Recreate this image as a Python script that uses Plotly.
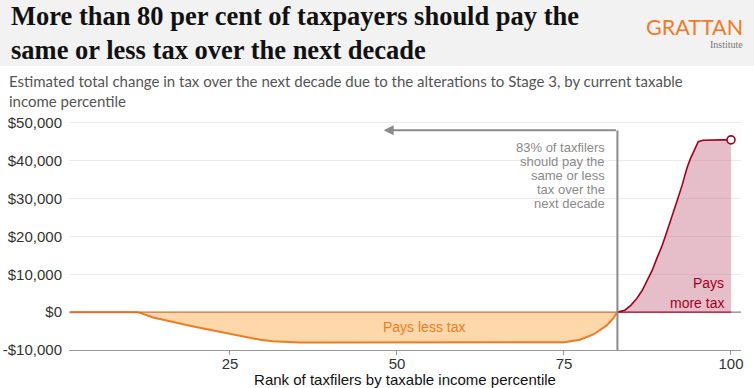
import plotly.graph_objects as go

# ---- data ----
less_pct = [1, 5, 10, 11.2, 13.5, 16, 18.5, 21, 23.5, 25.5, 27.5, 29.5, 31.4, 33.5, 35.5, 38.5, 45, 55, 65, 72, 75, 77.4, 79.4, 81.4, 82.3, 83]
less_val = [0, 0, 0, 0, -1400, -2500, -3400, -4300, -5200, -6000, -6700, -7300, -7700, -7900, -8000, -8050, -8050, -8050, -8050, -8050, -7950, -7300, -5900, -3500, -1800, 0]

more_pct = [83, 84.1, 85.0, 85.9, 86.7, 87.4, 88.2, 88.9, 89.7, 90.4, 91.2, 91.9, 92.7, 93.4, 93.9, 94.4, 94.8, 95.1, 95.8, 96.9, 98.5, 100]
more_val = [0, 500, 1800, 3600, 5700, 8000, 11000, 14200, 17600, 21200, 25200, 29200, 33600, 38000, 40400, 42400, 44000, 45000, 45400, 45500, 45500, 45500]

y_ticks = [-10000, 0, 10000, 20000, 30000, 40000, 50000]
y_tick_labels = ["-$10,000", "$0", "$10,000", "$20,000", "$30,000", "$40,000", "$50,000"]
x_ticks = [25, 50, 75, 100]
x_tick_labels = ["25", "50", "75", "100"]

threshold = 83
arrow_end = 48
arrow_level = 48000

title = "More than 80 per cent of taxpayers should pay the<br>same or less tax over the next decade"
subtitle = "Estimated total change in tax over the next decade due to the alterations to Stage 3, by current taxable<br>income percentile"
x_title = "Rank of taxfilers by taxable income percentile"
note_lines = ["83% of taxfilers", "should pay the", "same or less", "tax over the", "next decade"]

ORANGE = "#f47a1f"
ORANGE_FILL = "#fed7aa"
RED = "#a3001e"
RED_FILL = "rgba(200,110,135,0.45)"
GREY = "#8a8a8a"

W, H = 754, 388
ML, MR, MT, MB = 69, 13, 119, 38
PW, PH = W - ML - MR, H - MT - MB


def px(p):
    return (p - ML) / PW


def py(p):
    return (H - MB - p) / PH


fig = go.Figure()

fig.add_trace(go.Scatter(x=less_pct, y=less_val, mode="lines", fill="tozeroy",
                         fillcolor=ORANGE_FILL, line=dict(color=ORANGE, width=2),
                         hoverinfo="skip", showlegend=False))
fig.add_trace(go.Scatter(x=more_pct, y=more_val, mode="lines", fill="tozeroy",
                         fillcolor=RED_FILL, line=dict(color=RED, width=1.6),
                         hoverinfo="skip", showlegend=False))
# baseline segments
fig.add_trace(go.Scatter(x=[less_pct[0], threshold], y=[0, 0], mode="lines",
                         line=dict(color="#c9703a", width=1.3), hoverinfo="skip", showlegend=False))
fig.add_trace(go.Scatter(x=[threshold, more_pct[-1]], y=[0, 0], mode="lines",
                         line=dict(color=RED, width=1.3), hoverinfo="skip", showlegend=False))
# end marker
fig.add_trace(go.Scatter(x=[more_pct[-1]], y=[more_val[-1]], mode="markers",
                         marker=dict(size=8, color="white", line=dict(color=RED, width=1.6)),
                         hoverinfo="skip", showlegend=False))

shapes = [
    # title band
    dict(type="rect", xref="paper", yref="paper", x0=px(0), x1=px(W), y0=py(66), y1=py(0),
         fillcolor="#f2f2f2", line=dict(width=0), layer="below"),
    # white box behind the note (hides gridlines)
    dict(type="rect", xref="paper", yref="paper", x0=px(509), x1=px(612), y0=py(211), y1=py(139),
         fillcolor="white", line=dict(width=0), layer="between"),
    # zero line continuation (grey) beyond data
    dict(type="line", xref="x", yref="y", x0=more_pct[-1], x1=101.5, y0=0, y1=0,
         line=dict(color=GREY, width=1.3)),
    # vertical threshold line
    dict(type="line", xref="x", yref="y", x0=threshold, x1=threshold, y0=-10000, y1=arrow_level,
         line=dict(color=GREY, width=2)),
]

annotations = [
    dict(text="<b>" + title + "</b>", xref="paper", yref="paper", x=px(9), y=py(33),
         xanchor="left", yanchor="middle", align="left", showarrow=False,
         font=dict(family="Liberation Serif", size=26.5, color="#111")),
    dict(text="GRATTAN", xref="paper", yref="paper", x=px(745), y=py(27),
         xanchor="right", yanchor="middle", showarrow=False,
         font=dict(family="Lato", size=21.5, color="#f47a1f")),
    dict(text="Institute", xref="paper", yref="paper", x=px(745), y=py(44),
         xanchor="right", yanchor="middle", showarrow=False,
         font=dict(family="Liberation Serif", size=10, color="#777")),
    dict(text=subtitle, xref="paper", yref="paper", x=px(7), y=py(91),
         xanchor="left", yanchor="middle", align="left", showarrow=False,
         font=dict(family="Lato", size=15, color="#555")),
    dict(text="Pays less tax", xref="x", yref="y", x=54, y=-4000,
         xanchor="center", yanchor="middle", showarrow=False,
         font=dict(family="Liberation Sans", size=14, color=ORANGE)),
    dict(text="Pays", xref="x", yref="y", x=99.2, y=7600,
         xanchor="right", yanchor="middle", showarrow=False,
         font=dict(family="Liberation Sans", size=14, color=RED)),
    dict(text="more tax", xref="x", yref="y", x=99.2, y=2400,
         xanchor="right", yanchor="middle", showarrow=False,
         font=dict(family="Liberation Sans", size=14, color=RED)),
    # arrow
    dict(x=arrow_end, y=arrow_level, ax=threshold, ay=arrow_level, xref="x", yref="y",
         axref="x", ayref="y", text="", showarrow=True, arrowhead=2, arrowsize=1,
         arrowwidth=2, arrowcolor=GREY, standoff=0, startstandoff=0),
]
for i, line in enumerate(note_lines):
    annotations.append(dict(text=line, xref="paper", yref="paper", x=px(607), y=py(147.7 + 13.9 * i),
                            xanchor="right", yanchor="middle", align="right", showarrow=False,
                            font=dict(family="Liberation Sans", size=13, color=GREY)))

fig.update_layout(
    width=W, height=H,
    margin=dict(l=ML, r=MR, t=MT, b=MB, pad=0, autoexpand=False),
    paper_bgcolor="white", plot_bgcolor="white",
    shapes=shapes, annotations=annotations,
    font=dict(family="Liberation Sans", size=15, color="#333"),
    xaxis=dict(range=[0.9, 101.5], tickvals=x_ticks, ticktext=x_tick_labels, automargin=False,
               showgrid=False, zeroline=False, showline=True, linecolor="#999", linewidth=1,
               ticks="outside", ticklen=4, tickcolor="#999", ticklabelstandoff=-4,
               tickfont=dict(family="Liberation Sans", size=15, color="#333"),
               title=dict(text=x_title, standoff=2,
                          font=dict(family="Liberation Sans", size=15, color="#111"))),
    yaxis=dict(range=[-10000, 51000], tickvals=y_ticks, ticktext=y_tick_labels, automargin=False,
               showgrid=True, gridcolor="#ebebeb", gridwidth=1, zeroline=False,
               showline=False, ticks="", ticklabelstandoff=6,
               tickfont=dict(family="Liberation Sans", size=15, color="#333")),
)

fig.write_html("out.html", config={"displayModeBar": False},
               post_script="document.body.style.margin='0';document.body.style.overflow='hidden';")
